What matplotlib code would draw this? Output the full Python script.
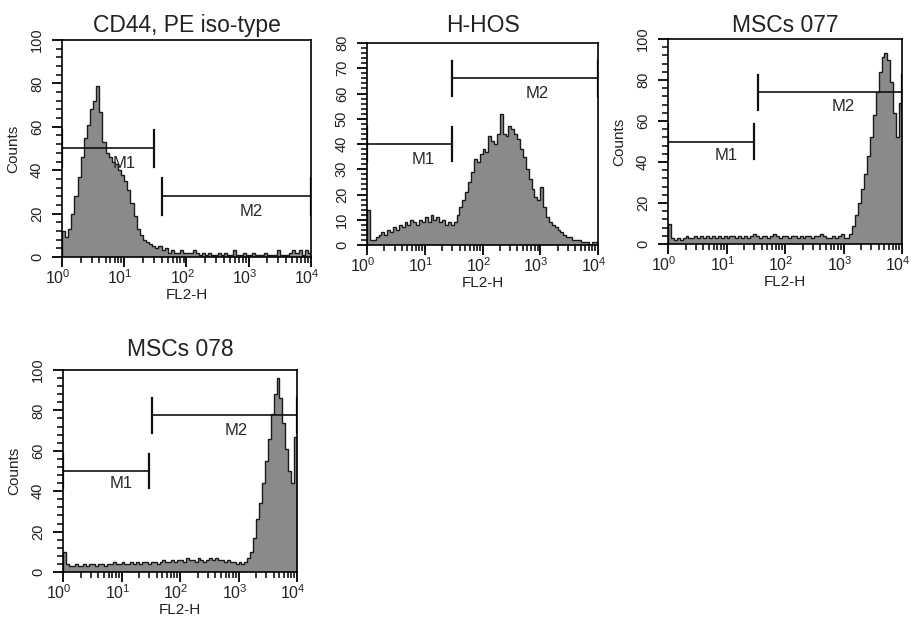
import numpy as np
import matplotlib
matplotlib.use("Agg")
import matplotlib.pyplot as plt
from matplotlib.ticker import MultipleLocator, LogLocator, NullFormatter
from matplotlib.transforms import ScaledTranslation

plt.rcParams['font.family'] = ['Liberation Sans', 'DejaVu Sans']
plt.rcParams['mathtext.fontset'] = 'custom'
plt.rcParams['mathtext.rm'] = 'Liberation Sans'
plt.rcParams['mathtext.default'] = 'regular'

# channel counts, 20 channels per decade from 10^0 to 10^4
iso_counts = [12, 9, 13, 20, 28, 37, 46, 55, 61, 68, 72, 79, 67, 53, 48, 46, 44, 43, 40, 38,
              35, 31, 25, 19, 13, 10, 8, 7, 6, 5, 4, 5, 3, 4, 2, 3, 2, 2, 3, 2,
              2, 2, 3, 2, 1, 2, 1, 2, 1, 1, 2, 1, 2, 1, 1, 3, 1, 1, 2, 1,
              1, 2, 1, 1, 1, 2, 1, 1, 1, 3, 1, 1, 1, 2, 3, 2, 3, 1, 3, 2]
hhos_counts = [14, 2, 2, 3, 4, 5, 4, 6, 5, 7, 6, 8, 7, 9, 8, 10, 9, 8, 10, 9,
               11, 9, 12, 10, 11, 9, 10, 8, 9, 8, 9, 12, 15, 18, 21, 25, 29, 34, 33, 36,
               38, 37, 43, 41, 40, 44, 52, 44, 43, 47, 46, 44, 42, 38, 35, 30, 26, 22, 19, 18,
               23, 15, 11, 9, 8, 7, 6, 5, 4, 3, 3, 2, 2, 2, 1, 1, 1, 0, 1, 1]
msc077_counts = [10, 3, 2, 3, 2, 3, 4, 3, 3, 4, 3, 4, 3, 4, 3, 4, 3, 4, 3, 4,
                 3, 4, 4, 3, 4, 3, 4, 3, 4, 5, 4, 3, 4, 4, 3, 4, 5, 4, 3, 4,
                 4, 3, 4, 4, 3, 4, 3, 4, 4, 3, 4, 4, 5, 4, 3, 3, 4, 3, 4, 5,
                 3, 3, 5, 9, 14, 20, 27, 34, 43, 52, 63, 74, 84, 91, 93, 90, 79, 64, 52, 69]
msc078_counts = [10, 4, 3, 3, 4, 3, 3, 4, 3, 4, 4, 3, 4, 4, 3, 4, 4, 5, 4, 4,
                 5, 4, 4, 5, 4, 5, 4, 5, 5, 4, 5, 5, 4, 5, 6, 5, 5, 6, 5, 6,
                 6, 5, 7, 6, 6, 5, 7, 6, 5, 6, 7, 6, 7, 6, 6, 5, 6, 5, 5, 4,
                 5, 4, 5, 7, 10, 17, 26, 34, 44, 55, 66, 78, 88, 96, 86, 74, 61, 50, 44, 67]

titles = ["CD44, PE iso-type", "H-HOS", "MSCs 077", "MSCs 078"]
ymax = [100, 80, 100, 100]
# gates: (start, end, level) for M1 and M2
m1_gates = [(1, 30, 50), (1, 30, 40), (1, 30, 50), (1, 30, 50)]
m2_gates = [(40, 10000, 28), (30, 10000, 66), (35, 10000, 74), (33, 10000, 77.5)]
m1_labels = [(10, 43), (9.5, 34), (10, 43), (10, 44)]
m2_labels = [(1100, 21), (870, 60), (980, 67), (930, 70)]
decades = [1, 10, 100, 1000, 10000]

edges = 10 ** (np.arange(81) / 20)

W, H = 911, 623
boxes = [(62, 40, 311, 257), (367, 43, 598, 245), (668, 39, 902, 244), (63, 370, 297, 572)]
title_pads = [6, 8, 5, 10]

fig = plt.figure(figsize=(9.11, 6.23), dpi=100)
shift = ScaledTranslation(-4 / 100, 0, fig.dpi_scale_trans)

data = [iso_counts, hhos_counts, msc077_counts, msc078_counts]
for i in range(4):
    l, t, r, b = boxes[i]
    ax = fig.add_axes([l / W, 1 - b / H, (r - l) / W, (b - t) / H])
    ax.stairs(data[i], edges, fill=True, color='#8a8a8a', lw=0)
    ax.stairs(data[i], edges, color='#1a1a1a', lw=1.0)
    ax.set_xscale('log')
    ax.set_xlim(1, 10000)
    ax.set_ylim(0, ymax[i])

    # gates
    hh = ymax[i] * 0.085
    for (x0, x1, y), (lx, ly), name in [(m1_gates[i], m1_labels[i], 'M1'), (m2_gates[i], m2_labels[i], 'M2')]:
        ax.plot([x0, x1], [y, y], color='#111111', lw=1.2)
        ax.plot([x0, x0], [y - hh, y + hh], color='#111111', lw=1.6)
        ax.plot([x1, x1], [y - hh, y + hh], color='#111111', lw=1.6)
        ax.text(lx, ly, name, ha='center', va='center', fontsize=12, color='#2a2a2a')

    ax.set_xticks(decades, ['$10^{%d}$' % k for k in range(5)])
    ax.xaxis.set_minor_locator(LogLocator(base=10, subs=np.arange(2, 10), numticks=20))
    ax.xaxis.set_minor_formatter(NullFormatter())
    if ymax[i] == 80:
        ax.yaxis.set_major_locator(MultipleLocator(10))
        ax.yaxis.set_minor_locator(MultipleLocator(2))
    else:
        ax.yaxis.set_major_locator(MultipleLocator(20))
        ax.yaxis.set_minor_locator(MultipleLocator(4))
    ax.tick_params(axis='x', which='major', length=7, width=1.3, labelsize=11.5, pad=1)
    ax.tick_params(axis='x', which='minor', length=4.5, width=1.1)
    ax.tick_params(axis='y', which='major', length=7, width=1.3, labelsize=10.5, pad=6)
    ax.tick_params(axis='y', which='minor', length=4.5, width=1.1)
    for lab in ax.get_xticklabels():
        lab.set_transform(lab.get_transform() + shift)
        lab.set_color('#222222')
    for lab in ax.get_yticklabels():
        lab.set_rotation(90)
        lab.set_va('center')
        lab.set_color('#222222')
    for s in ax.spines.values():
        s.set_linewidth(1.2)

    ax.set_title(titles[i], fontsize=16.5, pad=title_pads[i], color='#222222')
    ax.set_xlabel('FL2-H', fontsize=11, labelpad=1, color='#222222')
    if i != 1:
        ax.set_ylabel('Counts', fontsize=11, labelpad=7, color='#222222')

fig.savefig('out.png', dpi=100)
